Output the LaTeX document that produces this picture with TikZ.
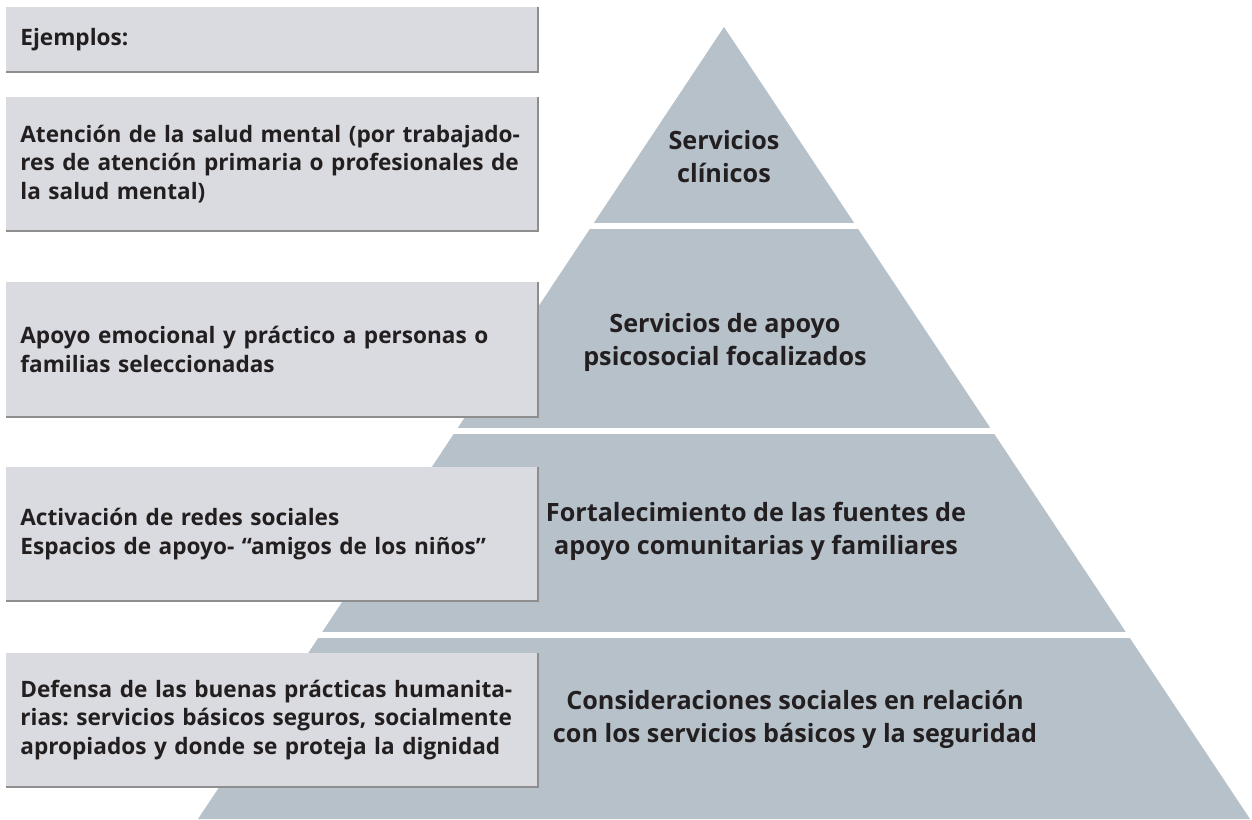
\documentclass[tikz,border=0pt]{standalone}
\usepackage{fontspec}
\setmainfont{Open Sans}
\usetikzlibrary{calc}
\definecolor{pyrgray}{HTML}{B6C1CA}
\definecolor{boxgray}{HTML}{D9DBE0}
\definecolor{edgegray}{HTML}{8E8E8E}
\definecolor{inkdark}{HTML}{231F20}
\frenchspacing
\tikzset{
  example/.style={anchor=north west, fill=boxgray, inner xsep=7pt, inner ysep=0pt,
    text width=251.5pt, align=left, text=inkdark,
    font=\bfseries\fontsize{11.3}{14.3}\selectfont},
  tier/.style={align=center, text=inkdark, font=\bfseries\fontsize{12.6}{16.5}\selectfont},
  shadeline/.style={edgegray, line width=1pt},
}

\begin{document}
\begin{tikzpicture}[x=0.5pt,y=-0.5pt]
    \useasboundingbox (0,0) rectangle (1252,819);
    % Pyramid
    \coordinate (apex) at (724,27);
    \coordinate (bl) at (198,819);
    \coordinate (br) at (1250,819);
    \fill[pyrgray] (apex) -- (bl) -- (br) -- cycle;
    \foreach \y in {223,428,632} {
      \fill[white] (150,\y) rectangle (1252,\y+5.5);
    }
    % Examples
    \node[example, minimum height=32pt] (ex0) at (6,7) {Ejemplos:};
    \node[example, minimum height=66.5pt] (ex1) at (6,97)
      {Atención de la salud mental (por trabajado-\\res de atención primaria o profesionales de\\la salud mental)};
    \node[example, minimum height=67pt] (ex2) at (6,282)
      {Apoyo emocional y práctico a personas o\\familias seleccionadas};
    \node[example, minimum height=66.5pt] (ex3) at (6,467)
      {Activación de redes sociales\\Espacios de apoyo- “amigos de los niños”};
    \node[example, minimum height=66.5pt] (ex4) at (6,653)
      {Defensa de las buenas prácticas humanita-\\rias: servicios básicos seguros, socialmente\\apropiados y donde se proteja la dignidad};
    \foreach \b in {ex0,ex1,ex2,ex3,ex4} {
      \draw[shadeline] (\b.north east) -- (\b.south east) -- (\b.south west);
    }
    % Levels
    \node[tier] (lv1) at (724,157) {Servicios\\clínicos};
    \node[tier] (lv2) at (725,342) {Servicios de apoyo\\psicosocial focalizados};
    \node[tier] (lv3) at (756,531) {Fortalecimiento de las fuentes de\\apoyo comunitarias y familiares};
    \node[tier] (lv4) at (795,719) {Consideraciones sociales en relación\\con los servicios básicos y la seguridad};
  \end{tikzpicture}
\end{document}
